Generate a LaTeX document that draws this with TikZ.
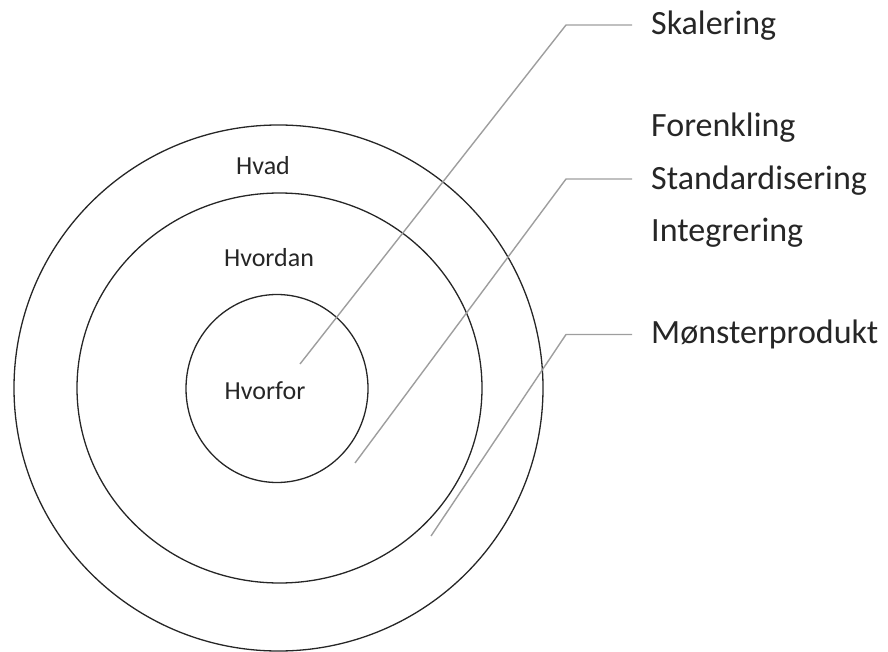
\documentclass[tikz,border=0pt]{standalone}
\usepackage{fontspec}
\setmainfont{Carlito}
\begin{document}
\begin{tikzpicture}[x=1pt,y=-1pt,
  ring/.style={draw=black!85,line width=1.3pt},
  leader/.style={draw=black!38,line width=1.4pt},
  small/.style={font=\fontsize{26}{30}\selectfont,inner sep=0pt,anchor=base,text=black!85},
  big/.style={font=\fontsize{34}{40}\selectfont,inner sep=0pt,anchor=base west,text=black!85}]
\useasboundingbox (0,0) rectangle (888,652);
% rings
\draw[ring] (278.5,388) ellipse [x radius=264.5,y radius=263];
\draw[ring] (279.5,388) ellipse [x radius=202.5,y radius=195];
\draw[ring] (277,388.5) ellipse [x radius=91,y radius=94];
% ring labels
\node[small] (hvad) at (263,175) {Hvad};
\node[small] (hvordan) at (269,266) {Hvordan};
\node[small] (hvorfor) at (265,399) {Hvorfor};
% right labels
\node[big] (skal) at (651,35) {Skalering};
\node[big] (foren) at (651,137) {Forenkling};
\node[big] (stand) at (651,190) {Standardisering};
\node[big] (integ) at (651,242) {Integrering};
\node[big] (monst) at (651,343) {Mønsterprodukt};
% leader coordinates
\coordinate (a1) at (300,364);
\coordinate (a2) at (566,25);
\coordinate (a3) at (632,25);
\coordinate (b1) at (355,463);
\coordinate (b2) at (566,179);
\coordinate (b3) at (632,179);
\coordinate (c1) at (431,536);
\coordinate (c2) at (566,334.5);
\coordinate (c3) at (632,334.5);
\draw[leader] (a1) -- (a2) -- (a3);
\draw[leader] (b1) -- (b2) -- (b3);
\draw[leader] (c1) -- (c2) -- (c3);
\end{tikzpicture}
\end{document}
